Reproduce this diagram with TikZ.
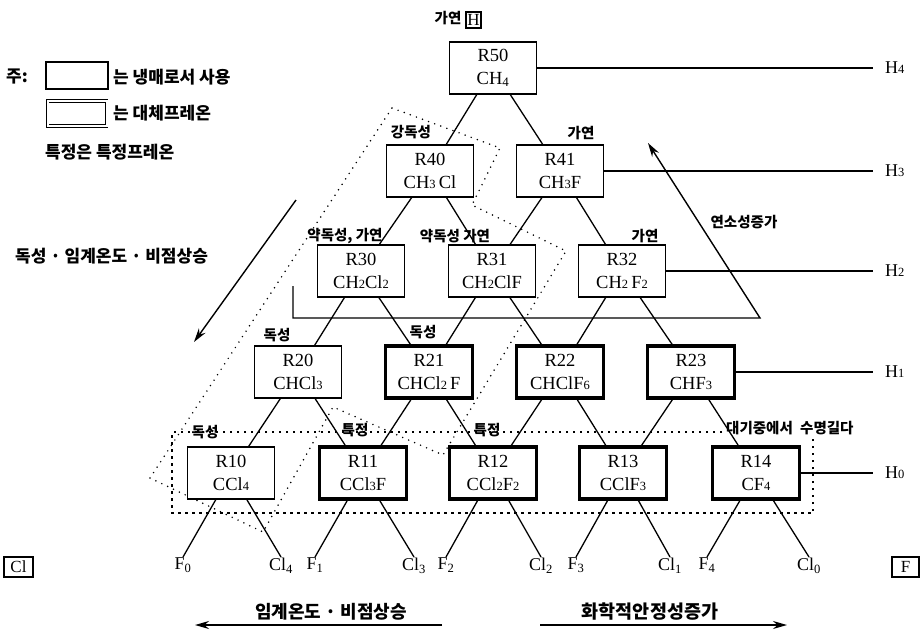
\documentclass[tikz,border=0pt]{standalone}
\usepackage{fontspec}
\setmainfont{Liberation Serif}
\newfontfamily\kr{Noto Sans CJK KR}
\usetikzlibrary{arrows.meta}
\newcommand{\dg}[1]{{\fontsize{12.5}{12.5}\selectfont #1}}
\begin{document}
\begin{tikzpicture}[x=1pt,y=-1pt,
  rbox/.style={draw, line width=1.2pt, fill=white, minimum width=87pt, minimum height=52pt, inner sep=0pt, align=center, font=\fontsize{18.5}{23}\selectfont},
  rthick/.style={rbox, line width=3.6pt},
  edge/.style={line width=1.3pt},
  lab/.style={font=\kr\bfseries\fontsize{14.5}{16}\selectfont, inner sep=0pt},
  leg/.style={font=\kr\bfseries\fontsize{17}{19}\selectfont, inner sep=0pt, anchor=west},
  dots/.style={line width=1.7pt, dash pattern=on 0pt off 6.5pt, line cap=round},
  dashrect/.style={line width=1.4pt, dash pattern=on 2.5pt off 4.5pt},
  leaf/.style={font=\fontsize{18}{20}\selectfont, anchor=north, inner sep=1pt},
  hlab/.style={font=\fontsize{18}{20}\selectfont, anchor=west, inner sep=0pt, outer xsep=12pt},
  lbox/.style={draw, line width=1.1pt, font=\fontsize{17}{19}\selectfont, inner sep=2pt, minimum height=20pt},
  arr/.style={line width=1.4pt, -{Stealth[length=14pt,width=8pt]}}
]
\useasboundingbox (0,0) rectangle (921,635);

% dotted regions
\draw[dots] (392,108) -- (500,148) -- (472,205) -- (566,251) -- (443,455) -- (333,407) -- (263,532) -- (150,478) -- cycle;
\draw[dashrect] (722,432) -- (172,432) -- (172,513) -- (813,513) -- (813,437);

% legend
\node[leg] (ju) at (6,77) {주:};
\node[draw, line width=2pt, minimum width=62pt, minimum height=27pt, inner sep=0pt] (lg1) at (77,75.5) {};
\node[leg] (lt1) at (113,77) {는 냉매로서 사용};
\node[draw, line width=0.9pt, double, double distance=2pt, minimum width=59pt, minimum height=25pt, inner sep=0pt] (lg2) at (77,113.5) {};
\node[leg] (lt2) at (113,113) {는 대체프레온};
\node[leg] (lt3) at (45,152) {특정은 특정프레온};
\node[leg] (lt4) at (15,256) {독성 · 임계온도 · 비점상승};

% boxes
\node[rbox] (r50) at (493,68) {R50\\CH\textsubscript{4}};
\node[rbox] (r40) at (430,171) {R40\\CH\dg{3}\,Cl};
\node[rbox] (r41) at (560,171) {R41\\CH\dg{3}F};
\node[rbox] (r30) at (361,271) {R30\\CH\dg{2}Cl\dg{2}};
\node[rbox] (r31) at (492,271) {R31\\CH\dg{2}ClF};
\node[rbox] (r32) at (622,271) {R32\\CH\dg{2}\,F\dg{2}};
\node[rbox] (r20) at (298,372) {R20\\CHCl\dg{3}};
\node[rthick] (r21) at (429,372) {R21\\CHCl\dg{2}\,F};
\node[rthick] (r22) at (560,372) {R22\\CHClF\dg{6}};
\node[rthick] (r23) at (691,372) {R23\\CHF\dg{3}};
\node[rbox] (r10) at (231,473) {R10\\CCl\dg{4}};
\node[rthick] (r11) at (363,473) {R11\\CCl\dg{3}F};
\node[rthick] (r12) at (493,473) {R12\\CCl\dg{2}F\dg{2}};
\node[rthick] (r13) at (623,473) {R13\\CClF\dg{3}};
\node[rthick] (r14) at (756,473) {R14\\CF\dg{4}};

% lattice edges
\foreach \a/\b in {r50/r40,r50/r41,r40/r30,r40/r31,r41/r31,r41/r32,r30/r20,r30/r21,r31/r21,r31/r22,r32/r22,r32/r23,r20/r10,r20/r11,r21/r11,r21/r12,r22/r12,r22/r13,r23/r13,r23/r14}
  \draw[edge] (\a) -- (\b);

% leaves
\node[leaf] (f0) at (183,557) {F\textsubscript{0}};
\node[leaf] (c4) at (281,557) {Cl\textsubscript{4}};
\node[leaf] (f1) at (315,557) {F\textsubscript{1}};
\node[leaf] (c3) at (414,557) {Cl\textsubscript{3}};
\node[leaf] (f2) at (446,557) {F\textsubscript{2}};
\node[leaf] (c2) at (541,557) {Cl\textsubscript{2}};
\node[leaf] (f3) at (576,557) {F\textsubscript{3}};
\node[leaf] (c1) at (670,557) {Cl\textsubscript{1}};
\node[leaf] (f4) at (707,557) {F\textsubscript{4}};
\node[leaf] (c0) at (809,557) {Cl\textsubscript{0}};
\foreach \a/\b in {r10/f0,r10/c4,r11/f1,r11/c3,r12/f2,r12/c2,r13/f3,r13/c1,r14/f4,r14/c0}
  \draw[edge] (\a) -- (\b.north);

% H levels
\node[hlab] (h4) at (873,68) {H\dg{4}};
\node[hlab] (h3) at (873,171) {H\dg{3}};
\node[hlab] (h2) at (873,271) {H\dg{2}};
\node[hlab] (h1) at (873,372) {H\dg{1}};
\node[hlab] (h0) at (873,473) {H\dg{0}};
\draw[edge] (r50) -- (h4);
\draw[edge] (r41) -- (h3);
\draw[edge] (r32) -- (h2);
\draw[edge] (r23) -- (h1);
\draw[edge] (r14) -- (h0);

% element boxes
\node[lbox, minimum width=15pt, inner sep=1pt, minimum height=16pt] (hb) at (473.5,20) {H};
\node[lbox, minimum width=29pt] (clb) at (18.5,567) {Cl};
\node[lbox, minimum width=27pt] (fb) at (905.5,567) {F};

% labels
\node[lab] (l1) at (448,18) {가연};
\node[lab] (l2) at (411,132) {강독성};
\node[lab] (l3) at (581,133) {가연};
\node[lab] (l4) at (345,236) {약독성, 가연};
\node[lab] (l5) at (455,236) {약독성 가연};
\node[lab] (l6) at (645,236) {가연};
\node[lab] (l7) at (277,335) {독성};
\node[lab] (l8) at (423,332) {독성};
\node[lab] (l9) at (205,432) {독성};
\node[lab] (l10) at (355,430) {특정};
\node[lab] (l11) at (487,430) {특정};
\node[lab, anchor=west] (l12) at (726,428) {대기중에서 \hspace{4pt}수명길다};
\node[lab] (l13) at (744,222) {연소성증가};

% arrows
\coordinate (ta) at (296,200);
\coordinate (tb) at (194,342);
\draw[arr] (ta) -- (tb);
\coordinate (ca) at (293,286);
\coordinate (cb) at (293,318);
\coordinate (cc) at (760,318);
\coordinate (cd) at (648,143);
\draw[arr] (ca) -- (cb) -- (cc) -- (cd);

\node[font=\kr\bfseries\fontsize{18}{20}\selectfont, inner sep=0pt] (bt1) at (331,612) {임계온도 · 비점상승};
\node[font=\kr\bfseries\fontsize{18.5}{20}\selectfont, inner sep=0pt] (bt2) at (650,612) {화학적안정성증가};
\coordinate (a1) at (442,625);
\coordinate (a2) at (195,625);
\coordinate (a3) at (540,625);
\coordinate (a4) at (787,625);
\draw[arr] (a1) -- (a2);
\draw[arr] (a3) -- (a4);
\end{tikzpicture}
\end{document}
